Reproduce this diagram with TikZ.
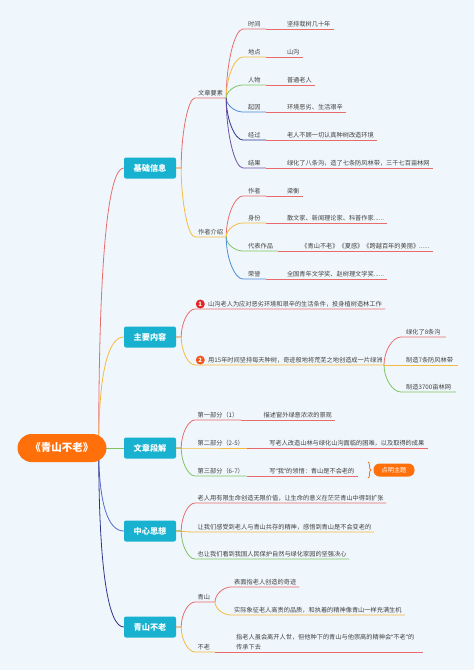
\documentclass[tikz,border=0pt]{standalone}
\usepackage{fontspec}
\setmainfont{Noto Sans CJK SC}
\newfontfamily\quotefont{Noto Sans}
\usetikzlibrary{calc,positioning,decorations.pathreplacing}
\definecolor{pagebg}{RGB}{240,247,252}
\definecolor{topiccyan}{RGB}{24,178,208}
\definecolor{rootorange}{RGB}{255,112,10}
\definecolor{txtgray}{RGB}{64,64,64}
\definecolor{brred}{RGB}{232,108,108}
\definecolor{bryellow}{RGB}{246,186,62}
\definecolor{brgreen}{RGB}{126,196,96}
\definecolor{brblue}{RGB}{74,138,214}
\definecolor{brnavy}{RGB}{44,52,140}
\definecolor{brpurple}{RGB}{108,82,164}
\definecolor{linkblue}{RGB}{86,104,206}
\definecolor{badgered}{RGB}{226,36,36}
\definecolor{badgeorange}{RGB}{240,86,30}
\newcommand\leaffont{\fontsize{6.2}{10}\selectfont}
\newcommand\topicfont{\fontsize{8.2}{10}\selectfont\bfseries}
\newcommand\rootfont{\fontsize{10.5}{12}\selectfont\bfseries}
\newcommand\badgefont{\fontsize{6}{7}\selectfont\bfseries}
\newcommand\openq{{\quotefont “}}
\newcommand\closeq{{\quotefont ”}}
\pgfdeclarelayer{background}
\pgfsetlayers{background,main}

\begin{document}
\begin{tikzpicture}[x=1pt, y=-1pt,
    conn/.style={line width=0.8pt},
    branch/.style={to path={.. controls ($(\tikztostart)!0.5!(\tikztostart|-\tikztotarget)$) and ($(\tikztostart|-\tikztotarget)!0.5!(\tikztotarget)$) .. (\tikztotarget)}},
    rootcurve/.style={to path={.. controls ($(\tikztostart)!0.7!(\tikztostart|-\tikztotarget)$) and ($(\tikztostart|-\tikztotarget)!0.4!(\tikztotarget)$) .. (\tikztotarget)}},
    rootnode/.style={rectangle, rounded corners=14pt, fill=rootorange, text=white, font=\rootfont, minimum width=89pt, minimum height=28pt, inner sep=0pt},
    topic/.style={rectangle, rounded corners=2pt, fill=topiccyan, text=white, font=\topicfont, minimum width=52pt, minimum height=21pt, inner sep=0pt},
    lbl/.style={anchor=south west, inner xsep=2.5pt, inner ysep=1.8pt, text=txtgray, font=\leaffont},
    keyl/.style={lbl, inner xsep=5pt},
    vall/.style={lbl, inner xsep=3pt},
    badge/.style={circle, inner sep=0pt, minimum size=9pt, text=white, font=\badgefont},
    pill/.style={rectangle, rounded corners=6pt, fill=rootorange, text=white, font=\leaffont, minimum width=41pt, minimum height=13pt, inner sep=0pt}]

    % page
    \begin{pgfonlayer}{background}
        \fill[pagebg] (0,0) rectangle (474,670);
    \end{pgfonlayer}
    \useasboundingbox (0,0) rectangle (474,670);

    % root and main topics
    \node[rootnode] (root) at (62,448) {《青山不老》};
    \node[topic] (jc) at (150,168) {基础信息};
    \node[topic] (zy) at (150,337) {主要内容};
    \node[topic] (dj) at (150,448) {文章段解};
    \node[topic] (sx) at (150,531) {中心思想};
    \node[topic] (qs) at (150,627) {青山不老};

    \coordinate (hub) at ($(root.east)+(-8,0)$);
    \begin{pgfonlayer}{background}
        \draw[conn, brred] (hub) to[rootcurve] (jc.west);
        \draw[conn, bryellow] (hub) to[rootcurve] (zy.west);
        \draw[conn, brgreen] (hub) -- (dj.west);
        \draw[conn, linkblue] (hub) to[rootcurve] (sx.west);
        \draw[conn, brnavy] (hub) to[rootcurve] (qs.west);
    \end{pgfonlayer}

    \coordinate (jcR) at ($(jc.east)+(5,0)$);
    \coordinate (zyR) at ($(zy.east)+(5,0)$);
    \coordinate (djR) at ($(dj.east)+(5,0)$);
    \coordinate (sxR) at ($(sx.east)+(5,0)$);
    \coordinate (qsR) at ($(qs.east)+(5,0)$);

    % basic info
    \node[lbl, inner xsep=3pt] (wy) at (195,98) {文章要素};
    \node[lbl, inner xsep=3pt] (zz) at (195,237) {作者介绍};
    \draw[conn, brred] (jc.east) -- (jcR) to[branch] (wy.south west) -- (wy.south east);
    \draw[conn, bryellow] (jc.east) -- (jcR) to[branch] (zz.south west) -- (zz.south east);

    \node[keyl] (sj) at (243,29) {时间};
    \node[vall, right=18pt of sj.south east, anchor=south west] (sjv) {坚持栽树几十年};
    \draw[conn, brred] (wy.south east) to[branch] (sj.south west) -- (sj.south east);
    \draw[conn, brred] (sj.south east) -- (sjv.south east);

    \node[keyl] (dd) at (243,57) {地点};
    \node[vall, right=18pt of dd.south east, anchor=south west] (ddv) {山沟};
    \draw[conn, bryellow] (wy.south east) to[branch] (dd.south west) -- (dd.south east);
    \draw[conn, brred] (dd.south east) -- (ddv.south east);

    \node[keyl] (rw) at (243,85) {人物};
    \node[vall, right=18pt of rw.south east, anchor=south west] (rwv) {普通老人};
    \draw[conn, brgreen] (wy.south east) to[branch] (rw.south west) -- (rw.south east);
    \draw[conn, brred] (rw.south east) -- (rwv.south east);

    \node[keyl] (qy) at (243,112) {起因};
    \node[vall, right=18pt of qy.south east, anchor=south west] (qyv) {环境恶劣、生活艰辛};
    \draw[conn, brblue] (wy.south east) to[branch] (qy.south west) -- (qy.south east);
    \draw[conn, brred] (qy.south east) -- (qyv.south east);

    \node[keyl] (jg) at (243,140) {经过};
    \node[vall, right=18pt of jg.south east, anchor=south west] (jgv) {老人不顾一切认真种树改造环境};
    \draw[conn, brnavy] (wy.south east) to[branch] (jg.south west) -- (jg.south east);
    \draw[conn, brred] (jg.south east) -- (jgv.south east);

    \node[keyl] (jk) at (243,168) {结果};
    \node[vall, right=18pt of jk.south east, anchor=south west] (jkv) {绿化了八条沟，造了七条防风林带，三千七百亩林网};
    \draw[conn, brpurple] (wy.south east) to[branch] (jk.south west) -- (jk.south east);
    \draw[conn, brred] (jk.south east) -- (jkv.south east);

    \node[keyl] (zr) at (243,196) {作者};
    \node[vall, right=18pt of zr.south east, anchor=south west] (zrv) {梁衡};
    \draw[conn, brred] (zz.south east) to[branch] (zr.south west) -- (zr.south east);
    \draw[conn, brred] (zr.south east) -- (zrv.south east);

    \node[keyl] (sf) at (243,223) {身份};
    \node[vall, right=18pt of sf.south east, anchor=south west] (sfv) {散文家、新闻理论家、科普作家......};
    \draw[conn, bryellow] (zz.south east) to[branch] (sf.south west) -- (sf.south east);
    \draw[conn, brred] (sf.south east) -- (sfv.south east);

    \node[keyl] (db) at (243,251) {代表作品};
    \node[vall, right=20pt of db.south east, anchor=south west] (dbv) {《青山不老》《夏感》《跨越百年的美丽》......};
    \draw[conn, brgreen] (zz.south east) to[branch] (db.south west) -- (db.south east);
    \draw[conn, brred] (db.south east) -- (dbv.south east);

    \node[keyl] (ry) at (243,279) {荣誉};
    \node[vall, right=18pt of ry.south east, anchor=south west] (ryv) {全国青年文学奖、赵树理文学奖......};
    \draw[conn, brblue] (zz.south east) to[branch] (ry.south west) -- (ry.south east);
    \draw[conn, brred] (ry.south east) -- (ryv.south east);

    % main content
    \coordinate (m1a) at (195,309);
    \node[vall, label={[badge, fill=badgered]left:1}] (m1) at (205,309) {山沟老人为应对恶劣环境和艰辛的生活条件，投身植树造林工作};
    \draw[conn, brred] (zy.east) -- (zyR) to[branch] (m1a) -- (m1.south east);

    \coordinate (m2a) at (195,365);
    \coordinate (m2R) at (384,365);
    \node[vall, label={[badge, fill=badgeorange]left:2}] (m2) at (205,365) {用15年时间坚持每天种树，奇迹般地将荒芜之地创造成一片绿洲};
    \draw[conn, bryellow] (zy.east) -- (zyR) to[branch] (m2a) -- (m2R);

    \node[lbl, inner xsep=5pt] (lh) at (401,337) {绿化了8条沟};
    \node[lbl, inner xsep=5pt] (fl) at (401,365) {制造7条防风林带};
    \node[lbl, inner xsep=5pt] (lw) at (401,392) {制造3700亩林网};
    \draw[conn, brred] (m2R) to[branch] (lh.south west) -- (lh.south east);
    \draw[conn, bryellow] (m2R) -- (fl.south east);
    \draw[conn, brgreen] (m2R) to[branch] (lw.south west) -- (lw.south east);

    % sections
    \node[lbl] (p1) at (195,420) {第一部分（1）};
    \node[vall, right=19.5pt of p1.south east, anchor=south west] (p1v) {描述窗外绿意浓浓的景观};
    \draw[conn, brred] (dj.east) -- (djR) to[branch] (p1.south west) -- (p1.south east);
    \draw[conn, brred] (p1.south east) -- (p1v.south east);

    \node[lbl] (p2) at (195,448) {第二部分（2-5）};
    \node[vall, right=19.5pt of p2.south east, anchor=south west] (p2v) {写老人改造山林与绿化山沟面临的困难，以及取得的成果};
    \draw[conn, bryellow] (dj.east) -- (p2.south west) -- (p2.south east);
    \draw[conn, brred] (p2.south east) -- (p2v.south east);

    \node[lbl] (p3) at (195,476) {第三部分（6-7）};
    \node[vall, right=19.5pt of p3.south east, anchor=south west] (p3v) {写\openq 我\closeq 的领悟：青山是不会老的};
    \draw[conn, brgreen] (dj.east) -- (djR) to[branch] (p3.south west) -- (p3.south east);
    \draw[conn, brred] (p3.south east) -- (p3v.south east);

    \coordinate (bt) at (368,462);
    \coordinate (bb) at (368,478);
    \draw[conn, rootorange, decorate, decoration={brace, amplitude=3pt}] (bt) -- (bb);
    \node[pill] (dm) at (394,470) {点明主题};

    % central idea
    \node[lbl] (c1) at (195,503) {老人用有限生命创造无限价值，让生命的意义在茫茫青山中得到扩张};
    \node[lbl] (c2) at (195,532) {让我们感受到老人与青山共存的精神，感悟到青山是不会变老的};
    \node[lbl] (c3) at (195,559) {也让我们看到我国人民保护自然与绿化家园的坚强决心};
    \draw[conn, brred] (sx.east) -- (sxR) to[branch] (c1.south west) -- (c1.south east);
    \draw[conn, bryellow] (sx.east) -- (sxR) to[branch] (c2.south west) -- (c2.south east);
    \draw[conn, brgreen] (sx.east) -- (sxR) to[branch] (c3.south west) -- (c3.south east);

    % green hills
    \node[lbl] (qk) at (195,602) {青山};
    \coordinate (qkR) at (215,602);
    \draw[conn, brred] (qs.east) -- (qsR) to[branch] (qk.south west) -- (qkR);
    \node[vall] (q1) at (231,587) {表面指老人创造的奇迹};
    \node[vall] (q2) at (231,615) {实际象征老人高贵的品质，和执着的精神像青山一样充满生机};
    \draw[conn, brred] (qkR) to[branch] (q1.south west) -- (q1.south east);
    \draw[conn, bryellow] (qkR) to[branch] (q2.south west) -- (q2.south east);

    \node[lbl] (bk) at (195,652) {不老};
    \coordinate (bkR) at (215,652);
    \draw[conn, bryellow] (qs.east) -- (qsR) to[branch] (bk.south west) -- (bkR);
    \node[vall, text width=184pt, align=left] (q3) at (233,652) {指老人虽会离开人世，但他种下的青山与他崇高的精神会\openq 不老\closeq 的\\传承下去};
    \draw[conn, brred] (bkR) -- (q3.south east);
\end{tikzpicture}
\end{document}
